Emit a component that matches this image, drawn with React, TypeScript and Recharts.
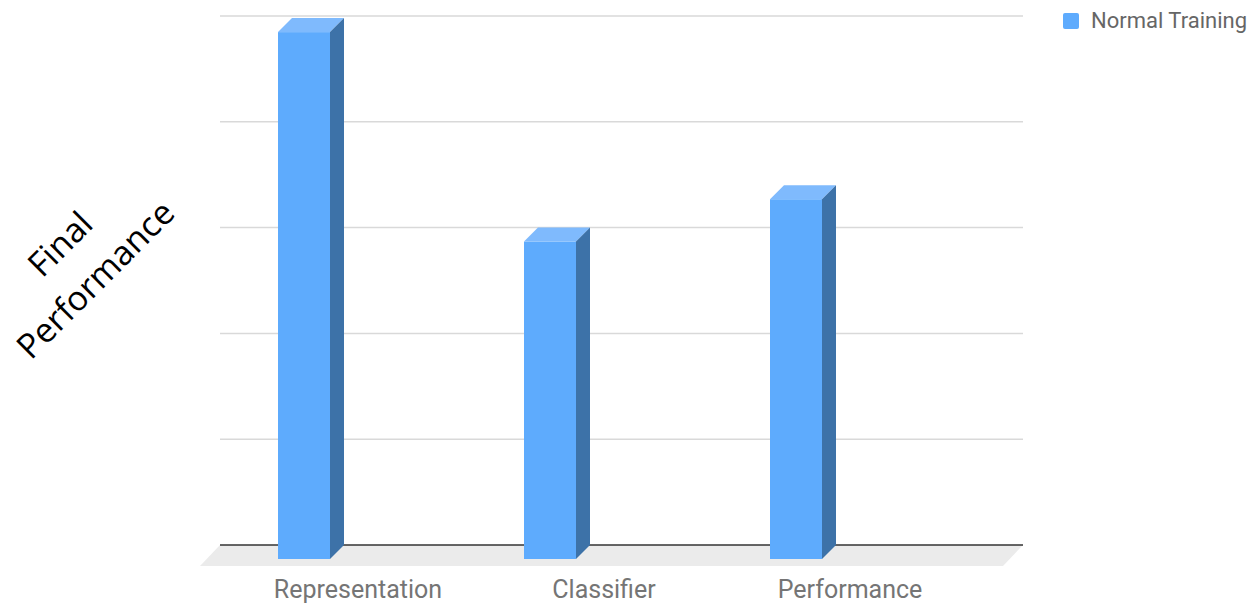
import React from 'react';
import { BarChart, Bar, XAxis, YAxis, CartesianGrid } from 'recharts';

const categories = ['Representation', 'Classifier', 'Performance'];
const normalTraining = [4.98, 3.0, 3.4];
const gridTicks = [0, 1, 2, 3, 4, 5];

const data = categories.map((name, i) => ({ name, normal: normalTraining[i] }));

const FRONT = '#5eabfd';
const SIDE = '#3d72a8';
const TOP = '#7fbafd';
const DEPTH = 14;
const SHIFT = -54; // bars sit left of their category label

// 3D box: back face lives on the value scale, front face is pushed down-left by DEPTH
const Box3D = (props: any) => {
  const { x, y, width, height } = props;
  if (width == null || height == null) return null;
  const fx = x + SHIFT;
  const bx = fx + DEPTH;
  const base = y + height;
  const fy = y + DEPTH;
  const fb = base + DEPTH;
  return (
    <g>
      <polygon
        points={`${fx},${fy} ${bx},${y} ${bx + width},${y} ${fx + width},${fy}`}
        fill={TOP}
      />
      <polygon
        points={`${fx + width},${fy} ${bx + width},${y} ${bx + width},${base} ${fx + width},${fb}`}
        fill={SIDE}
      />
      <rect x={fx} y={fy} width={width} height={fb - fy} fill={FRONT} />
    </g>
  );
};

// grid lines; the bottom one becomes the floor plus the dark base line
const GridLine = (props: any) => {
  const { x1, y1, x2, y2, index } = props;
  const bottom = props.y + props.height;
  if (Math.abs(y1 - bottom) < 0.5) {
    return (
      <g key={`grid-${index}`}>
        <polygon
          points={`${x1},${y1} ${x2},${y1} ${x2 - 20},${y1 + 21} ${x1 - 20},${y1 + 21}`}
          fill="#ebebeb"
        />
        <line x1={x1} y1={y1} x2={x2} y2={y2} stroke="#333" strokeWidth={1.5} />
      </g>
    );
  }
  return <line key={`grid-${index}`} x1={x1} y1={y1} x2={x2} y2={y2} stroke="#d9d9d9" strokeWidth={1.5} />;
};

const CategoryTick = (props: any) => {
  const { x, y, payload } = props;
  return (
    <text
      x={x}
      y={y + 53}
      textAnchor="middle"
      fill="#757575"
      fontSize={25}
      fontFamily="Roboto, sans-serif"
    >
      {payload.value}
    </text>
  );
};

export default function App() {
  return (
    <div style={{ position: 'absolute', left: 0, top: 0, width: 1251, height: 603, background: '#fff' }}>
      <BarChart
        width={1251}
        height={603}
        data={data}
        margin={{ top: 16, right: 228, bottom: 0, left: 220 }}
      >
        <CartesianGrid vertical={false} horizontal={GridLine} />
        <XAxis
          dataKey="name"
          height={58}
          axisLine={false}
          tickLine={false}
          tickSize={0}
          tickMargin={0}
          padding={{ left: 15, right: 50 }}
          tick={<CategoryTick />}
        />
        <YAxis hide width={0} domain={[0, 5]} ticks={gridTicks} />
        <Bar dataKey="normal" barSize={52} shape={<Box3D />} isAnimationActive={false} />
      </BarChart>

      <div
        style={{
          position: 'absolute',
          left: 1063,
          top: 8,
          display: 'flex',
          alignItems: 'center',
          fontFamily: 'Roboto, sans-serif',
          fontSize: 22,
          color: '#666',
          whiteSpace: 'nowrap',
        }}
      >
        <span
          style={{
            display: 'inline-block',
            width: 16,
            height: 16,
            borderRadius: 2,
            background: FRONT,
            marginRight: 12,
          }}
        />
        Normal Training
      </div>

      <div
        style={{
          position: 'absolute',
          left: -53,
          top: 211,
          width: 260,
          height: 100,
          lineHeight: '50px',
          textAlign: 'center',
          fontFamily: '"Open Sans", sans-serif',
          fontSize: 34,
          color: '#000',
          transform: 'rotate(-45deg)',
        }}
      >
        Final
        <br />
        Performance
      </div>
    </div>
  );
}
